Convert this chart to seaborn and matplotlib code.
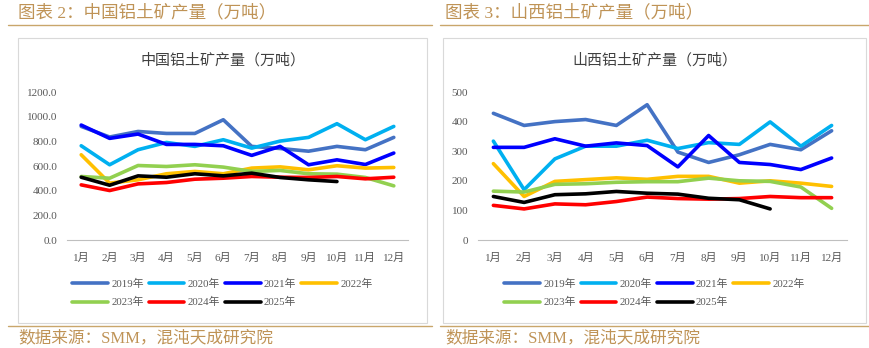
import matplotlib
matplotlib.use("Agg")
import matplotlib.pyplot as plt
import seaborn as sns
import pandas as pd
from matplotlib.patches import Rectangle
from matplotlib.lines import Line2D

months = ["1月", "2月", "3月", "4月", "5月", "6月", "7月", "8月", "9月", "10月", "11月", "12月"]
years = ["2019年", "2020年", "2021年", "2022年", "2023年", "2024年", "2025年"]
colors = ["#4472C4", "#00B0F0", "#0000FF", "#FFC000", "#92D050", "#FF0000", "#000000"]

# 中国铝土矿产量（万吨）
china_2019 = [921, 835, 880, 864, 864, 975, 759, 742, 720, 759, 732, 832]
china_2020 = [764, 610, 732, 791, 759, 813, 745, 802, 832, 943, 813, 921]
china_2021 = [932, 824, 859, 775, 775, 764, 686, 759, 610, 650, 612, 705]
china_2022 = [691, 461, 488, 537, 556, 537, 583, 593, 569, 602, 583, 588]
china_2023 = [515, 501, 604, 596, 610, 591, 556, 564, 537, 534, 507, 439]
china_2024 = [447, 401, 455, 466, 493, 501, 515, 509, 507, 515, 496, 509]
china_2025 = [509, 444, 520, 509, 537, 520, 542, 507, 488, 474]

# 山西铝土矿产量（万吨）
shanxi_2019 = [428, 387, 400, 407, 387, 457, 297, 262, 288, 323, 305, 369]
shanxi_2020 = [334, 170, 274, 317, 317, 337, 309, 329, 323, 399, 317, 387]
shanxi_2021 = [313, 313, 342, 317, 328, 319, 247, 353, 262, 255, 238, 277]
shanxi_2022 = [258, 147, 198, 204, 210, 205, 215, 215, 192, 200, 192, 181]
shanxi_2023 = [165, 162, 188, 190, 195, 197, 197, 209, 200, 198, 179, 107]
shanxi_2024 = [117, 105, 122, 119, 130, 145, 140, 138, 140, 147, 143, 143]
shanxi_2025 = [147, 127, 153, 156, 164, 158, 155, 141, 136, 105]

china_series = [china_2019, china_2020, china_2021, china_2022, china_2023, china_2024, china_2025]
shanxi_series = [shanxi_2019, shanxi_2020, shanxi_2021, shanxi_2022, shanxi_2023, shanxi_2024, shanxi_2025]


def long_frame(series):
    rows = []
    for year, vals in zip(years, series):
        for i, v in enumerate(vals):
            rows.append({"月份": i, "年份": year, "产量": v})
    return pd.DataFrame(rows)


sns.set_theme(style="white")
plt.rcParams["font.family"] = ["Liberation Serif", "Noto Sans CJK SC", "DejaVu Sans"]

W, H = 869, 348
fig = plt.figure(figsize=(W / 100, H / 100), dpi=100)
fig.patch.set_facecolor("white")

gold = "#BF9356"
line_gold = "#C9A66B"
box_gray = "#D9D9D9"
tick_gray = "#595959"


def px_rect(x0, y0, x1, y1):
    return [x0 / W, 1 - y1 / H, (x1 - x0) / W, (y1 - y0) / H]


def hline(x0, x1, y, color, lw):
    fig.add_artist(Line2D([x0 / W, x1 / W], [1 - y / H, 1 - y / H], color=color, lw=lw,
                          transform=fig.transFigure))


panels = [
    dict(header="图表 2：中国铝土矿产量（万吨）", title="中国铝土矿产量（万吨）",
         series=china_series, hx=18, box=(18, 38, 427, 323), rule=(8, 432),
         ax=(67, 92, 408, 240), ylim=1200, yticks=[0, 200, 400, 600, 800, 1000, 1200],
         fmt="{:.1f}"),
    dict(header="图表 3：山西铝土矿产量（万吨）", title="山西铝土矿产量（万吨）",
         series=shanxi_series, hx=445, box=(443, 38, 866, 323), rule=(440, 869),
         ax=(478, 92, 847, 240), ylim=500, yticks=[0, 100, 200, 300, 400, 500],
         fmt="{:d}"),
]

# legend fills column by column; this order gives rows 2019-2022 / 2023-2025
legend_order = [0, 4, 1, 5, 2, 6, 3]

for p in panels:
    # header, rules and outer chart box
    fig.text(p["hx"] / W, 1 - 13 / H, p["header"], color=gold, fontsize=12.6,
             ha="left", va="center")
    hline(p["rule"][0], p["rule"][1], 25, line_gold, 1.0)
    hline(p["rule"][0], p["rule"][1], 326, line_gold, 1.0)
    bx0, by0, bx1, by1 = p["box"]
    fig.add_artist(Rectangle((bx0 / W, 1 - by1 / H), (bx1 - bx0) / W, (by1 - by0) / H,
                             transform=fig.transFigure, fill=False, ec=box_gray, lw=0.8))
    fig.text(p["hx"] / W, 1 - 338 / H, "数据来源：SMM，混沌天成研究院", color=gold,
             fontsize=12, ha="left", va="center")
    fig.text((bx0 + bx1) / 2 / W, 1 - 60 / H, p["title"], color="#404040", fontsize=10.8,
             ha="center", va="center")

    ax = fig.add_axes(px_rect(*p["ax"]))
    df = long_frame(p["series"])
    sns.lineplot(data=df, x="月份", y="产量", hue="年份", hue_order=years,
                 palette=colors, linewidth=2.6, ax=ax, legend=False, sort=False)
    ax.set_xlim(-0.5, 11.5)
    ax.set_ylim(0, p["ylim"])
    ax.set_xticks(range(12))
    ax.set_xticklabels(months)
    ax.set_yticks(p["yticks"])
    ax.set_yticklabels([p["fmt"].format(v) for v in p["yticks"]])
    ax.set_xlabel("")
    ax.set_ylabel("")
    for side in ["top", "right", "left"]:
        ax.spines[side].set_visible(False)
    ax.spines["bottom"].set_color("#BFBFBF")
    ax.spines["bottom"].set_linewidth(0.8)
    ax.tick_params(axis="both", length=0, colors=tick_gray, labelsize=8)
    ax.tick_params(axis="x", pad=9)
    ax.tick_params(axis="y", pad=7)
    ax.set_facecolor("none")
    ax.grid(False)

    handles = [Line2D([], [], color=colors[i], lw=2.6) for i in legend_order]
    labels = [years[i] for i in legend_order]
    leg = fig.legend(handles, labels, ncol=4, loc="upper center",
                     bbox_to_anchor=((bx0 + bx1) / 2 / W, 1 - 279 / H),
                     frameon=False, fontsize=7.8, handlelength=3.3, handletextpad=0.3,
                     columnspacing=0.45, labelspacing=0.75, borderaxespad=0,
                     borderpad=0)
    for t in leg.get_texts():
        t.set_color(tick_gray)

fig.savefig("out.png", dpi=100, facecolor="white")
